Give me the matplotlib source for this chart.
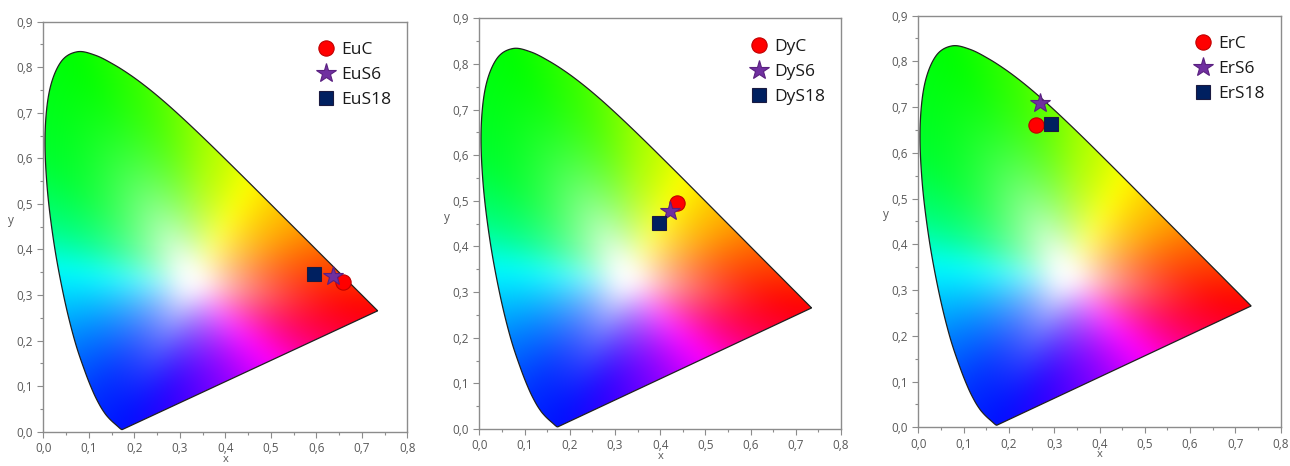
import numpy as np
import matplotlib
matplotlib.use("Agg")
import matplotlib.pyplot as plt
from matplotlib.patches import Polygon
from matplotlib.ticker import MultipleLocator, FuncFormatter
from matplotlib.colors import to_rgb

# CIE 1931 2-degree spectral locus (380-700 nm, 5 nm steps)
locus_x = [0.1741, 0.1740, 0.1738, 0.1736, 0.1733, 0.1730, 0.1726, 0.1721, 0.1714, 0.1703,
           0.1689, 0.1669, 0.1644, 0.1611, 0.1566, 0.1510, 0.1440, 0.1355, 0.1241, 0.1096,
           0.0913, 0.0687, 0.0454, 0.0235, 0.0082, 0.0039, 0.0139, 0.0389, 0.0743, 0.1142,
           0.1547, 0.1929, 0.2296, 0.2658, 0.3016, 0.3373, 0.3731, 0.4087, 0.4441, 0.4788,
           0.5125, 0.5448, 0.5752, 0.6029, 0.6270, 0.6482, 0.6658, 0.6801, 0.6915, 0.7006,
           0.7079, 0.7140, 0.7190, 0.7230, 0.7260, 0.7283, 0.7300, 0.7311, 0.7320, 0.7327,
           0.7334, 0.7340, 0.7344, 0.7346, 0.7347]
locus_y = [0.0050, 0.0050, 0.0049, 0.0049, 0.0048, 0.0048, 0.0048, 0.0048, 0.0051, 0.0058,
           0.0069, 0.0086, 0.0109, 0.0138, 0.0177, 0.0227, 0.0297, 0.0399, 0.0578, 0.0868,
           0.1327, 0.2007, 0.2950, 0.4127, 0.5384, 0.6548, 0.7502, 0.8120, 0.8338, 0.8262,
           0.8059, 0.7816, 0.7543, 0.7243, 0.6923, 0.6589, 0.6245, 0.5896, 0.5547, 0.5202,
           0.4866, 0.4544, 0.4242, 0.3965, 0.3725, 0.3514, 0.3340, 0.3197, 0.3083, 0.2993,
           0.2920, 0.2859, 0.2809, 0.2770, 0.2740, 0.2717, 0.2700, 0.2689, 0.2680, 0.2673,
           0.2666, 0.2660, 0.2656, 0.2654, 0.2653]

# Sample data per panel: (C, S6, S18)
eu_labels = ["EuC", "EuS6", "EuS18"]
eu_x = [0.659, 0.636, 0.594]
eu_y = [0.328, 0.342, 0.346]

dy_labels = ["DyC", "DyS6", "DyS18"]
dy_x = [0.437, 0.422, 0.397]
dy_y = [0.496, 0.478, 0.451]

er_labels = ["ErC", "ErS6", "ErS18"]
er_x = [0.260, 0.269, 0.292]
er_y = [0.661, 0.708, 0.662]

x_ticks = [0.0, 0.1, 0.2, 0.3, 0.4, 0.5, 0.6, 0.7, 0.8]
y_ticks = [0.0, 0.1, 0.2, 0.3, 0.4, 0.5, 0.6, 0.7, 0.8, 0.9]

plt.rcParams['font.family'] = ['Open Sans', 'DejaVu Sans']

WHITE = (0.33, 0.33)
# colour anchors for the diagram shading: direction point (x, y) -> colour
HUE_ANCHORS = [((0.735, 0.265), '#ff0000'), ((0.62, 0.21), '#ff0050'),
               ((0.50, 0.155), '#ff00ff'), ((0.40, 0.115), '#9000ff'),
               ((0.28, 0.065), '#3000ff'), ((0.174, 0.005), '#0010ff'),
               ((0.13, 0.10), '#0030ff'), ((0.07, 0.20), '#0080ff'),
               ((0.04, 0.35), '#00ffff'), ((0.02, 0.45), '#00ff80'),
               ((0.00, 0.60), '#00ff30'), ((0.07, 0.83), '#00ff00'),
               ((0.23, 0.75), '#40ff00'), ((0.35, 0.64), '#a0ff00'),
               ((0.45, 0.54), '#ffff00'), ((0.55, 0.44), '#ffa000'),
               ((0.65, 0.35), '#ff4000')]


def smooth_open(px, py, sub=12):
    P = np.column_stack([px, py])
    out = []
    n = len(P)
    for i in range(n - 1):
        p0 = P[max(i - 1, 0)]
        p1 = P[i]
        p2 = P[i + 1]
        p3 = P[min(i + 2, n - 1)]
        t = np.linspace(0, 1, sub, endpoint=False)[:, None]
        seg = 0.5 * ((2 * p1) + (-p0 + p2) * t + (2 * p0 - 5 * p1 + 4 * p2 - p3) * t ** 2
                     + (-p0 + 3 * p1 - 3 * p2 + p3) * t ** 3)
        out.append(seg)
    out.append(P[-1:])
    return np.vstack(out)


def blur(img, sigma):
    r = int(3 * sigma)
    k = np.exp(-0.5 * (np.arange(-r, r + 1) / sigma) ** 2)
    k /= k.sum()
    out = img.copy()
    for axis in (0, 1):
        pad = [(0, 0)] * 3
        pad[axis] = (r, r)
        p = np.pad(out, pad, mode='edge')
        acc = np.zeros_like(out)
        for j, w in enumerate(k):
            sl = [slice(None)] * 3
            sl[axis] = slice(j, j + out.shape[axis])
            acc += w * p[tuple(sl)]
        out = acc
    return out


OUTLINE = smooth_open(locus_x, locus_y)


def chroma_image(n=450):
    xs = np.linspace(0, 0.8, n)
    ys = np.linspace(0, 0.9, n)
    X, Y = np.meshgrid(xs, ys)
    dx, dy = X - WHITE[0], Y - WHITE[1]
    ang = np.degrees(np.arctan2(dy, dx))
    r = np.hypot(dx, dy)
    line = np.column_stack([np.linspace(OUTLINE[-1, 0], OUTLINE[0, 0], 200),
                            np.linspace(OUTLINE[-1, 1], OUTLINE[0, 1], 200)])
    B = np.vstack([OUTLINE, line])
    ba = np.degrees(np.arctan2(B[:, 1] - WHITE[1], B[:, 0] - WHITE[0]))
    br = np.hypot(B[:, 0] - WHITE[0], B[:, 1] - WHITE[1])
    o = np.argsort(ba)
    R = np.interp(ang, ba[o], br[o], period=360)
    s = np.clip(r / R, 0, 1)
    s = np.clip((s - 0.07) / 0.93, 0, 1)
    f = 1 - (1 - s) ** 2.1
    aa = np.array([np.degrees(np.arctan2(p[1] - WHITE[1], p[0] - WHITE[0])) for p, _ in HUE_ANCHORS])
    cc = np.array([to_rgb(c) for _, c in HUE_ANCHORS])
    o2 = np.argsort(aa)
    hue = np.stack([np.interp(ang, aa[o2], cc[o2, k], period=360) for k in range(3)], axis=-1)
    rgb = 1 + (hue - 1) * f[..., None]
    rgb = blur(rgb, sigma=n * 0.02 / 0.8)
    return np.clip(rgb, 0, 1)


IMG = chroma_image()

fig = plt.figure(figsize=(12.9, 4.66), dpi=100)
positions = [[0.0336, 0.0736, 0.2822, 0.880],
             [0.3716, 0.0794, 0.2804, 0.8813],
             [0.7119, 0.0830, 0.2809, 0.8835]]
panels = [(eu_labels, eu_x, eu_y), (dy_labels, dy_x, dy_y), (er_labels, er_x, er_y)]

fmt = FuncFormatter(lambda v, p: f"{v:.1f}".replace('.', ','))
tick_color = '#595959'
frame_color = '#8c8c8c'

for pos, (labels, xs, ys) in zip(positions, panels):
    ax = fig.add_axes(pos)
    poly = Polygon(OUTLINE, closed=True,
                   facecolor='none', edgecolor='#202020', lw=0.9, zorder=3)
    im = ax.imshow(IMG, origin='lower', extent=[0, 0.8, 0, 0.9], aspect='auto',
                   interpolation='bilinear', zorder=1)
    ax.add_patch(poly)
    im.set_clip_path(poly)

    styles = [dict(marker='o', color='#ff0000', mec='#c00000', ms=11),
              dict(marker='*', color='#7030a0', mec='#5a2080', ms=15),
              dict(marker='s', color='#002060', mec='#1a1a40', ms=10)]
    for lab, xv, yv, st in zip(labels, xs, ys, styles):
        ax.plot([xv], [yv], linestyle='none', label=lab, zorder=5, mew=0.8, **st)

    ax.set_xlim(0, 0.8)
    ax.set_ylim(0, 0.9)
    ax.set_xticks(x_ticks)
    ax.set_yticks(y_ticks)
    ax.xaxis.set_minor_locator(MultipleLocator(0.05))
    ax.yaxis.set_minor_locator(MultipleLocator(0.05))
    ax.xaxis.set_major_formatter(fmt)
    ax.yaxis.set_major_formatter(fmt)
    ax.tick_params(which='major', length=4, width=0.8, color=frame_color,
                   labelsize=8.5, labelcolor=tick_color, direction='out')
    ax.tick_params(which='minor', length=2.5, width=0.8, color=frame_color, direction='out')
    for sp in ax.spines.values():
        sp.set_color(frame_color)
        sp.set_linewidth(1.0)
    ax.set_xlabel('x', fontsize=8, color=tick_color, labelpad=-1)
    ax.set_ylabel('y', fontsize=8.5, color=tick_color, labelpad=4, rotation=0)

    leg = ax.legend(loc='upper right', bbox_to_anchor=(0.985, 0.975), frameon=False,
                    fontsize=12.5, handletextpad=0.1, labelspacing=0.5,
                    handlelength=1.6, borderaxespad=0.2)
    for t in leg.get_texts():
        t.set_color('#1a1a1a')

fig.savefig('out.png', dpi=100)
